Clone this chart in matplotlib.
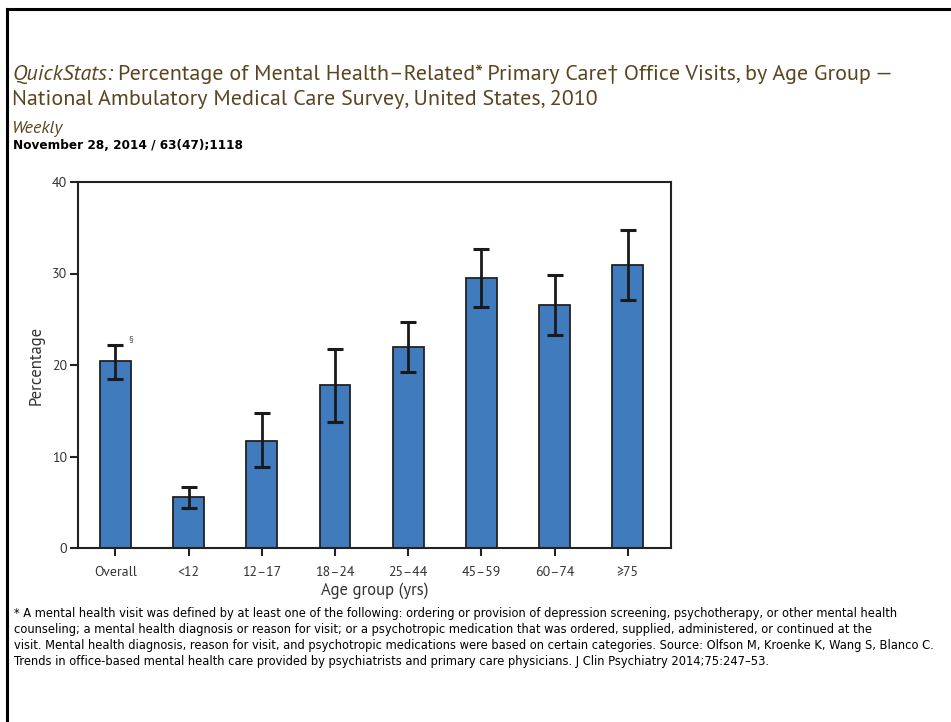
import matplotlib
matplotlib.use("Agg")
import matplotlib.pyplot as plt
from matplotlib import font_manager
from matplotlib.lines import Line2D

groups = ["Overall", "<12", "12\u201317", "18\u201324", "25\u201344", "45\u201359", "60\u201374", "\u226575"]
pct = [20.4, 5.6, 11.7, 17.8, 22.0, 29.5, 26.6, 30.9]
ci_low = [18.5, 4.4, 8.8, 13.8, 19.2, 26.3, 23.3, 27.1]
ci_high = [22.2, 6.7, 14.8, 21.7, 24.7, 32.7, 29.8, 34.7]
yticks = [0, 10, 20, 30, 40]

title_a = "QuickStats:"
title_b = "Percentage of Mental Health\u2013Related* Primary Care\u2020 Office Visits, by Age Group \u2014"
title_c = "National Ambulatory Medical Care Survey, United States, 2010"
footnote = [
    "* A mental health visit was defined by at least one of the following: ordering or provision of depression screening, psychotherapy, or other mental health",
    "counseling; a mental health diagnosis or reason for visit; or a psychotropic medication that was ordered, supplied, administered, or continued at the",
    "visit. Mental health diagnosis, reason for visit, and psychotropic medications were based on certain categories. Source: Olfson M, Kroenke K, Wang S, Blanco C.",
    "Trends in office-based mental health care provided by psychiatrists and primary care physicians. J Clin Psychiatry 2014;75:247\u201353.",
]

installed = {f.name for f in font_manager.fontManager.ttflist}


def pick(candidates):
    for name in candidates:
        if name in installed:
            return name
    return "DejaVu Sans"


title_font = [pick(["PT Sans", "Open Sans"]), "DejaVu Sans"]
axis_font = [pick(["PT Sans", "Open Sans"]), "DejaVu Sans"]
note_font = [pick(["Verdana", "DejaVu Sans"]), "DejaVu Sans"]

title_color = "#5b4420"
bar_color = "#3f7bbd"

fig = plt.figure(figsize=(9.51, 7.22), dpi=100)
W, H = 951, 722

# page frame: top and left rules
fig.add_artist(Line2D([7 / W, 1], [1 - 8.5 / H, 1 - 8.5 / H], color="black", lw=2.2))
fig.add_artist(Line2D([7 / W, 7 / W], [0, 1 - 8.5 / H], color="black", lw=2.2))

# title, sized so the first line runs from x=12 to x=888
size = 17
ta = fig.text(12 / W, 1 - 80 / H, title_a, fontsize=size, style="italic",
              color=title_color, family=title_font)
tb = fig.text(0, 1 - 80 / H, title_b, fontsize=size, color=title_color, family=title_font)
fig.canvas.draw()
r = fig.canvas.get_renderer()
total = ta.get_window_extent(r).width + 5 + tb.get_window_extent(r).width
size = size * 876 / total
ta.set_fontsize(size)
tb.set_fontsize(size)
fig.canvas.draw()
tb.set_x((ta.get_window_extent(r).x1 + 5) / W)
fig.text(12 / W, 1 - 105 / H, title_c, fontsize=size, color=title_color, family=title_font)
fig.text(12 / W, 1 - 133 / H, "Weekly", fontsize=size * 0.82, style="italic",
         color=title_color, family=title_font)
fig.text(13 / W, 1 - 149 / H, "November 28, 2014 / 63(47);1118", fontsize=8.7, weight="bold",
         color="black", family=["DejaVu Sans"])

ax = fig.add_axes([78 / W, 1 - 548 / H, (671 - 78) / W, (548 - 182) / H])
x = list(range(len(groups)))
err = [[p - lo for p, lo in zip(pct, ci_low)], [hi - p for p, hi in zip(pct, ci_high)]]
ax.bar(x, pct, width=0.42, color=bar_color, edgecolor="#222222", linewidth=1.3, zorder=2)
ax.errorbar(x, pct, yerr=err, fmt="none", ecolor="#1a1a1a", elinewidth=2, capsize=6,
            capthick=2.2, zorder=3)
ax.text(0.18, ci_high[0] + 0.2, "\u00a7", fontsize=7, color="#555555", family=axis_font)

ax.set_xlim(-0.51, 7.59)
ax.set_ylim(0, 40)
ax.set_yticks(yticks)
ax.set_xticks(x)
ax.set_xticklabels(groups, fontsize=10, color="#333333", family=axis_font)
ax.set_yticklabels([str(v) for v in yticks], fontsize=10, color="#333333", family=axis_font)
ax.tick_params(axis="both", direction="out", length=6, width=1.5, color="#222222")
ax.tick_params(axis="x", pad=7)
ax.tick_params(axis="y", pad=2)
for s in ax.spines.values():
    s.set_linewidth(1.5)
    s.set_color("#222222")
ax.set_xlabel("Age group (yrs)", fontsize=12, color="#333333", family=axis_font)
ax.set_ylabel("Percentage", fontsize=12, color="#333333", family=axis_font)
ax.xaxis.set_label_coords(0.5, -34 / 366, transform=ax.transAxes)
ax.yaxis.set_label_coords(-33 / 593, 0.5, transform=ax.transAxes)

# footnote, one text per line, width fitted to the longest line
note_size = 8
notes = []
for i, line in enumerate(footnote):
    notes.append(fig.text(14 / W, 1 - (613 + 16 * i) / H, line, fontsize=note_size,
                          color="black", va="center", family=note_font))
fig.canvas.draw()
scale = 924 / notes[2].get_window_extent(r).width
for t in notes:
    t.set_fontsize(note_size * scale)

fig.savefig("out.png", dpi=100)
